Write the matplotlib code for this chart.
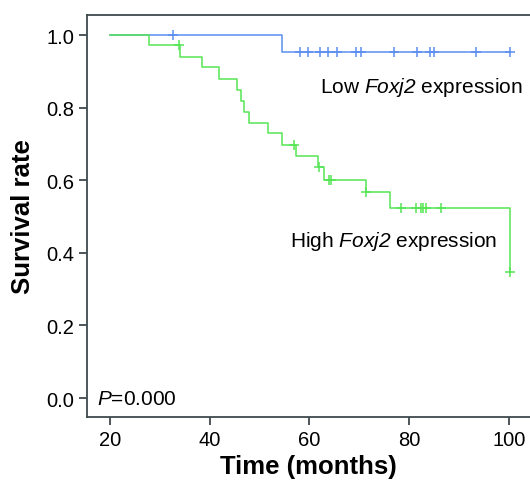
import numpy as np
import matplotlib
matplotlib.use("Agg")
import matplotlib.pyplot as plt

plt.rcParams.update(
    {
        "font.family": ["Liberation Sans", "DejaVu Sans"],
        "mathtext.fontset": "custom",
        "mathtext.rm": "Liberation Sans",
        "mathtext.it": "Liberation Sans:italic",
        # italic face also used for the gene name so the digit is slanted too
        "mathtext.sf": "Liberation Sans:italic",
        "axes.linewidth": 1.3,
    }
)

# ---- data ----
low_step_times = [20, 54.6, 100.1]
low_surv = [1.0, 0.954, 0.954]
low_censor = [32.7, 58.1, 59.7, 62.1, 63.7, 65.6, 69.3, 70.4, 77.0,
              81.6, 84.2, 85.0, 93.3, 100.1]

high_step_times = [20, 27.9, 34.0, 38.4, 42.0, 45.6, 46.4, 47.0, 47.9,
                   51.7, 54.6, 57.3, 61.8, 62.9, 71.3, 76.2, 100.1]
high_surv = [1.0, 0.972, 0.940, 0.911, 0.880, 0.849, 0.818, 0.789, 0.759,
             0.729, 0.698, 0.666, 0.636, 0.600, 0.567, 0.523, 0.347]
high_censor = [33.9, 56.9, 61.9, 64.0, 64.4, 71.4, 78.3, 81.3, 82.3,
               82.7, 83.4, 86.3, 100.1]

x_ticks = [20, 40, 60, 80, 100]
y_ticks = [0.0, 0.2, 0.4, 0.6, 0.8, 1.0]

BLUE = "#5b8ef0"
GREEN = "#55e655"
SPINE = "#3f4a4e"


def censor_levels(step_times, surv, censor):
    idx = np.searchsorted(step_times, censor, side="right") - 1
    return np.asarray(surv)[idx]


fig = plt.figure(figsize=(5.30, 4.89), dpi=100)
ax = fig.add_axes([0.1636, 0.1446, 0.8364, 0.8233])

for times, surv, cens, color in [
    (low_step_times, low_surv, low_censor, BLUE),
    (high_step_times, high_surv, high_censor, GREEN),
]:
    ax.step(times, surv, where="post", color=color, lw=1.1)
    ax.plot(cens, censor_levels(times, surv, cens), ls="none", marker="+",
            ms=7, mew=1.1, color=color)

ax.text(62.1, 0.857, r"Low $\mathsf{Foxj2}$ expression", fontsize=15,
        va="center", ha="left")
ax.text(56.1, 0.433, r"High $\mathsf{Foxj2}$ expression", fontsize=15,
        va="center", ha="left")
ax.text(17.5, 0.0, r"$\mathit{P}$=0.000", fontsize=15, va="center", ha="left")

ax.set_xlim(15.4, 104.2)
ax.set_ylim(-0.053, 1.056)
ax.set_xticks(x_ticks)
ax.set_yticks(y_ticks)
ax.set_yticklabels([f"{v:.1f}" for v in y_ticks])
ax.tick_params(labelsize=14.5, length=6, width=1.3, color=SPINE, pad=3)

for side in ["left", "bottom", "top"]:
    ax.spines[side].set_color(SPINE)
ax.spines["right"].set_visible(False)

ax.set_xlabel("Time (months)", fontsize=18.5, fontweight="bold", labelpad=4)
ax.set_ylabel("Survival rate", fontsize=18.5, fontweight="bold", labelpad=8)

fig.savefig("out.png", dpi=100)
